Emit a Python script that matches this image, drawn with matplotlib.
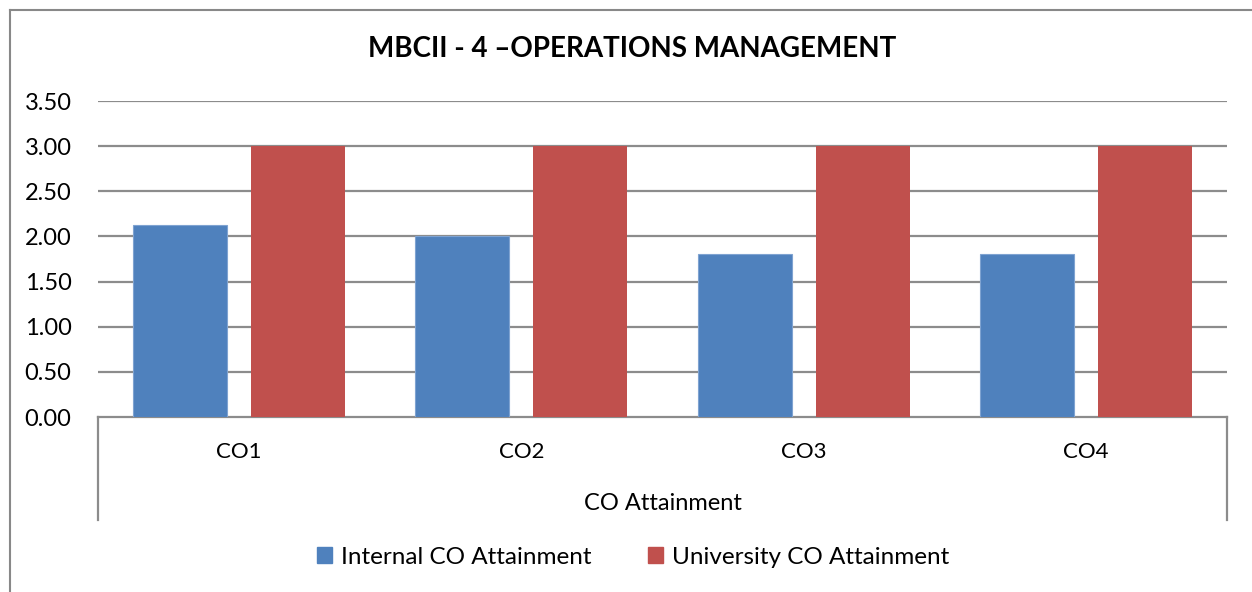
import matplotlib
matplotlib.use("Agg")
import matplotlib.pyplot as plt
from matplotlib.lines import Line2D
from matplotlib.patches import Patch
import numpy as np

categories = ["CO1", "CO2", "CO3", "CO4"]
internal = [2.13, 2.00, 1.80, 1.80]
university = [3.00, 3.00, 3.00, 3.00]
series_names = ["Internal CO Attainment", "University CO Attainment"]
group_label = "CO Attainment"
title = "MBCII - 4 \u2013OPERATIONS MANAGEMENT"
yticks = [0, 0.5, 1.0, 1.5, 2.0, 2.5, 3.0, 3.5]

BLUE = "#4F81BD"
RED = "#C0504D"
GRID = "#8C8C8C"
FONT = "Lato"

W, H = 1252, 592
fig = plt.figure(figsize=(W / 100, H / 100), dpi=100)
plt.rcParams["font.family"] = [FONT, "DejaVu Sans"]

left, right, bottom, top = 98 / W, 1227 / W, (H - 417) / H, (H - 101) / H
ax = fig.add_axes([left, bottom, right - left, top - bottom])

x = np.arange(len(categories))
bw = 0.333
off = 0.209
ax.bar(x - off, internal, bw, color=BLUE, zorder=3, edgecolor="#7FA3D1", linewidth=0.8)
ax.bar(x + off, university, bw, color=RED, zorder=3)

ax.set_xlim(-0.5, len(categories) - 0.5)
ax.set_ylim(0, 3.5)
ax.set_yticks(yticks)
ax.set_yticklabels([f"{v:.2f}" for v in yticks], fontsize=17, color="black")
ax.tick_params(axis="y", length=0, pad=19)
ax.set_xticks([])
for v in yticks[1:]:
    ax.axhline(v, color=GRID, lw=1.6, zorder=1)
for s in ["top", "right", "left"]:
    ax.spines[s].set_visible(False)
ax.spines["bottom"].set_color(GRID)
ax.spines["bottom"].set_linewidth(1.6)

# category labels and bracket
for i, c in enumerate(categories):
    ax.text(i, -0.385, c, ha="center", va="center", fontsize=16,
            transform=ax.transData, clip_on=False)
ax.text((len(categories) - 1) / 2, -0.955, group_label, ha="center", va="center",
        fontsize=17, clip_on=False)
for xv in [-0.5, len(categories) - 0.5]:
    ax.add_line(Line2D([xv, xv], [0, -1.14], color=GRID, lw=1.6, clip_on=False))

fig.text(632 / W, 1 - 49 / H, title, ha="center", va="center", fontsize=20,
         fontweight="bold")

handles = [Patch(color=BLUE), Patch(color=RED)]
fig.legend(handles, series_names, loc="center", bbox_to_anchor=(633 / W, 1 - 557 / H),
           ncol=2, frameon=False, fontsize=17.5, handlelength=0.62, handleheight=0.62,
           handletextpad=0.35, columnspacing=2.35)

# outer chart border (left and top visible)
fig.add_artist(Line2D([9.5 / W, 9.5 / W], [0, 1 - 9.5 / H], color="#888888", lw=1.5,
                      transform=fig.transFigure))
fig.add_artist(Line2D([9.5 / W, 1], [1 - 9.5 / H, 1 - 9.5 / H], color="#888888", lw=1.5,
                      transform=fig.transFigure))

fig.savefig("out.png", dpi=100, facecolor="white")
